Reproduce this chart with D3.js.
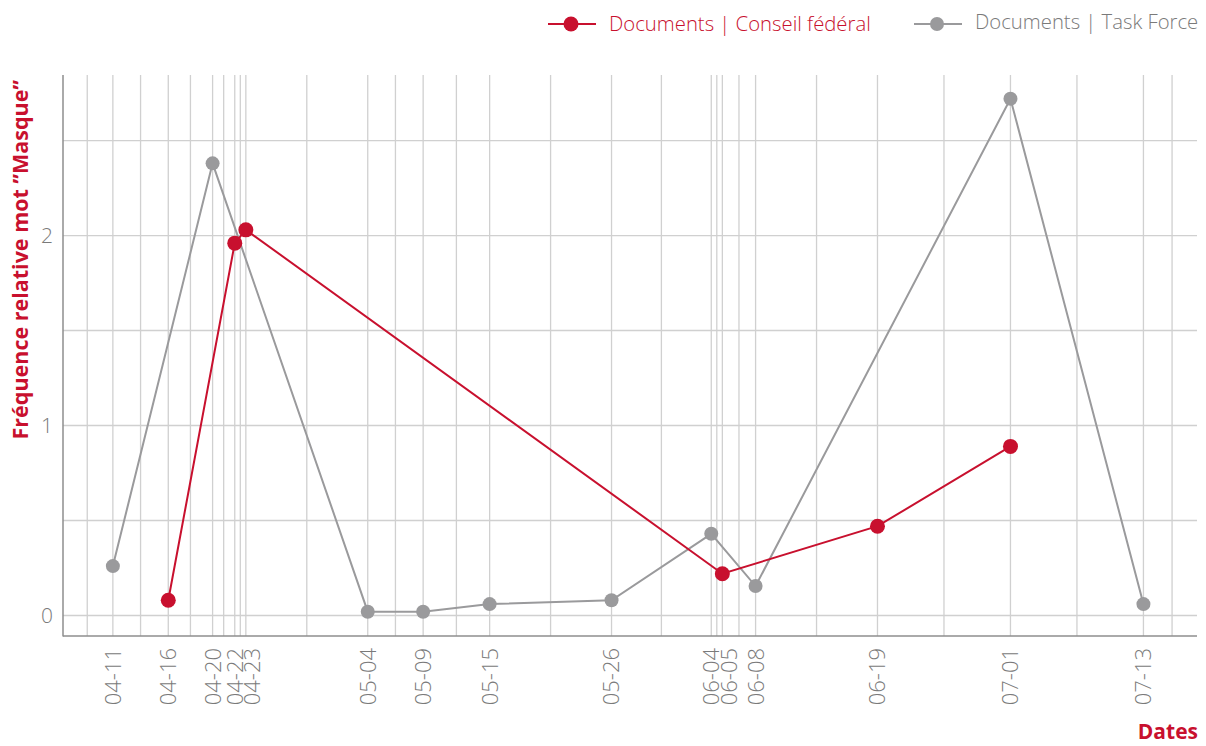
<!DOCTYPE html>
<html>
<head>
<meta charset="utf-8">
<script src="https://cdn.jsdelivr.net/npm/d3@7"></script>
<style>
  html, body { margin: 0; padding: 0; background: #fff; }
  svg text { font-family: "Open Sans", "Noto Sans", sans-serif; }
</style>
</head>
<body>
<svg id="chart" width="1206" height="746"></svg>
<script>
// ---- data ----
const tickDates = ["2020-04-11","2020-04-16","2020-04-20","2020-04-22","2020-04-23","2020-05-04","2020-05-09","2020-05-15","2020-05-26","2020-06-04","2020-06-05","2020-06-08","2020-06-19","2020-07-01","2020-07-13"];
const gridEdgeDates = ["2020-04-08T16:30:00Z","2020-07-15T14:00:00Z"];

const conseilDates = ["2020-04-16","2020-04-22","2020-04-23","2020-06-05","2020-06-19","2020-07-01"];
const conseilValues = [0.08, 1.96, 2.03, 0.22, 0.47, 0.89];

const taskForceDates = ["2020-04-11","2020-04-20","2020-05-04","2020-05-09","2020-05-15","2020-05-26","2020-06-04","2020-06-08","2020-07-01","2020-07-13"];
const taskForceValues = [0.26, 2.38, 0.02, 0.02, 0.06, 0.08, 0.43, 0.155, 2.72, 0.06];

const yTickValues = [0, 1, 2];
const yGridValues = [0, 0.5, 1, 1.5, 2, 2.5];

const seriesNames = ["Documents | Conseil fédéral", "Documents | Task Force"];
const yTitle = "Fréquence relative mot ”Masque”";
const xTitle = "Dates";

// ---- setup ----
const RED = "#c8102e", GRAY = "#9a9a9c", TEXT = "#7a7a7a";
const parse = s => new Date(s.length === 10 ? s + "T00:00:00Z" : s);
const svg = d3.select("#chart");
const L = 63, R = 1197, T = 75, B = 636;

const x = d3.scaleUtc()
  .domain([parse("2020-04-06T12:00:00Z"), parse("2020-07-17T20:00:00Z")])
  .range([L, R]);
const y = d3.scaleLinear().domain([-0.108, 2.845]).range([B, T]);

// vertical grid: data ticks, midpoints between them, and outer edges
const tickTimes = tickDates.map(parse);
const midTimes = d3.pairs(tickTimes).map(([a, b]) => new Date((+a + +b) / 2));
const vGrid = tickTimes.concat(midTimes, gridEdgeDates.map(parse));

const grid = svg.append("g");
grid.selectAll("line.v").data(vGrid).join("line")
  .attr("x1", d => x(d)).attr("x2", d => x(d))
  .attr("y1", T).attr("y2", B)
  .attr("stroke", "#d0d0d0").attr("stroke-width", 1.3);
grid.selectAll("line.h").data(yGridValues).join("line")
  .attr("x1", L).attr("x2", R)
  .attr("y1", d => y(d)).attr("y2", d => y(d))
  .attr("stroke", "#d0d0d0").attr("stroke-width", 1.3);

// axes lines
svg.append("line").attr("x1", L).attr("x2", L).attr("y1", T).attr("y2", B + 0.5)
  .attr("stroke", "#8e8e8e").attr("stroke-width", 1.5);
svg.append("line").attr("x1", L).attr("x2", R).attr("y1", B).attr("y2", B)
  .attr("stroke", "#8e8e8e").attr("stroke-width", 1.5);

// y axis labels
const yAxis = d3.axisLeft(y).tickValues(yTickValues).tickFormat(d3.format("d")).tickSize(0).tickPadding(10);
const gy = svg.append("g").attr("transform", `translate(${L},0)`).call(yAxis);
gy.select(".domain").remove();
gy.selectAll("text").attr("fill", TEXT).style("font-size", "21px").style("font-weight", 300)
  .attr("font-family", null);

// x axis labels with simple collision avoidance
const minGap = 17.5;
let prev = -Infinity;
const labelPos = tickTimes.map(t => { const p = Math.max(x(t), prev + minGap); prev = p; return p; });
svg.append("g").selectAll("text").data(tickTimes).join("text")
  .attr("transform", (d, i) => `translate(${labelPos[i]},648) rotate(-90)`)
  .attr("dy", "0.36em")
  .attr("text-anchor", "end")
  .attr("fill", TEXT).style("font-size", "22px").style("font-weight", 300)
  .text(d => d3.utcFormat("%m-%d")(d));

// series
function drawSeries(dates, values, color, r) {
  const pts = dates.map((d, i) => ({ t: parse(d), v: values[i] }));
  const line = d3.line().x(d => x(d.t)).y(d => y(d.v));
  const g = svg.append("g");
  g.append("path").datum(pts).attr("d", line)
    .attr("fill", "none").attr("stroke", color).attr("stroke-width", 2);
  g.selectAll("circle").data(pts).join("circle")
    .attr("cx", d => x(d.t)).attr("cy", d => y(d.v)).attr("r", r).attr("fill", color);
}
drawSeries(taskForceDates, taskForceValues, GRAY, 7);
drawSeries(conseilDates, conseilValues, RED, 7.5);

// titles
svg.append("text").attr("transform", "translate(28,80) rotate(-90)")
  .attr("text-anchor", "end").attr("fill", RED)
  .style("font-size", "21.5px").style("font-weight", 700).text(yTitle);
svg.append("text").attr("x", 1198).attr("y", 739).attr("text-anchor", "end")
  .attr("fill", RED).style("font-size", "21px").style("font-weight", 700).text(xTitle);

// legend
const legend = [
  { name: seriesNames[0], color: RED, x0: 548, ty: 31, tc: RED, r: 7.5 },
  { name: seriesNames[1], color: GRAY, x0: 914, ty: 29, tc: TEXT, r: 7 }
];
const lg = svg.append("g").selectAll("g").data(legend).join("g");
lg.append("line").attr("x1", d => d.x0).attr("x2", d => d.x0 + 48)
  .attr("y1", 24).attr("y2", 24).attr("stroke", d => d.color).attr("stroke-width", 2);
lg.append("circle").attr("cx", d => d.x0 + 23).attr("cy", 24).attr("r", d => d.r).attr("fill", d => d.color);
lg.append("text").attr("x", d => d.x0 + 61).attr("y", d => d.ty)
  .attr("fill", d => d.tc).style("font-size", "20.3px").style("font-weight", 300)
  .text(d => d.name);
</script>
</body>
</html>
